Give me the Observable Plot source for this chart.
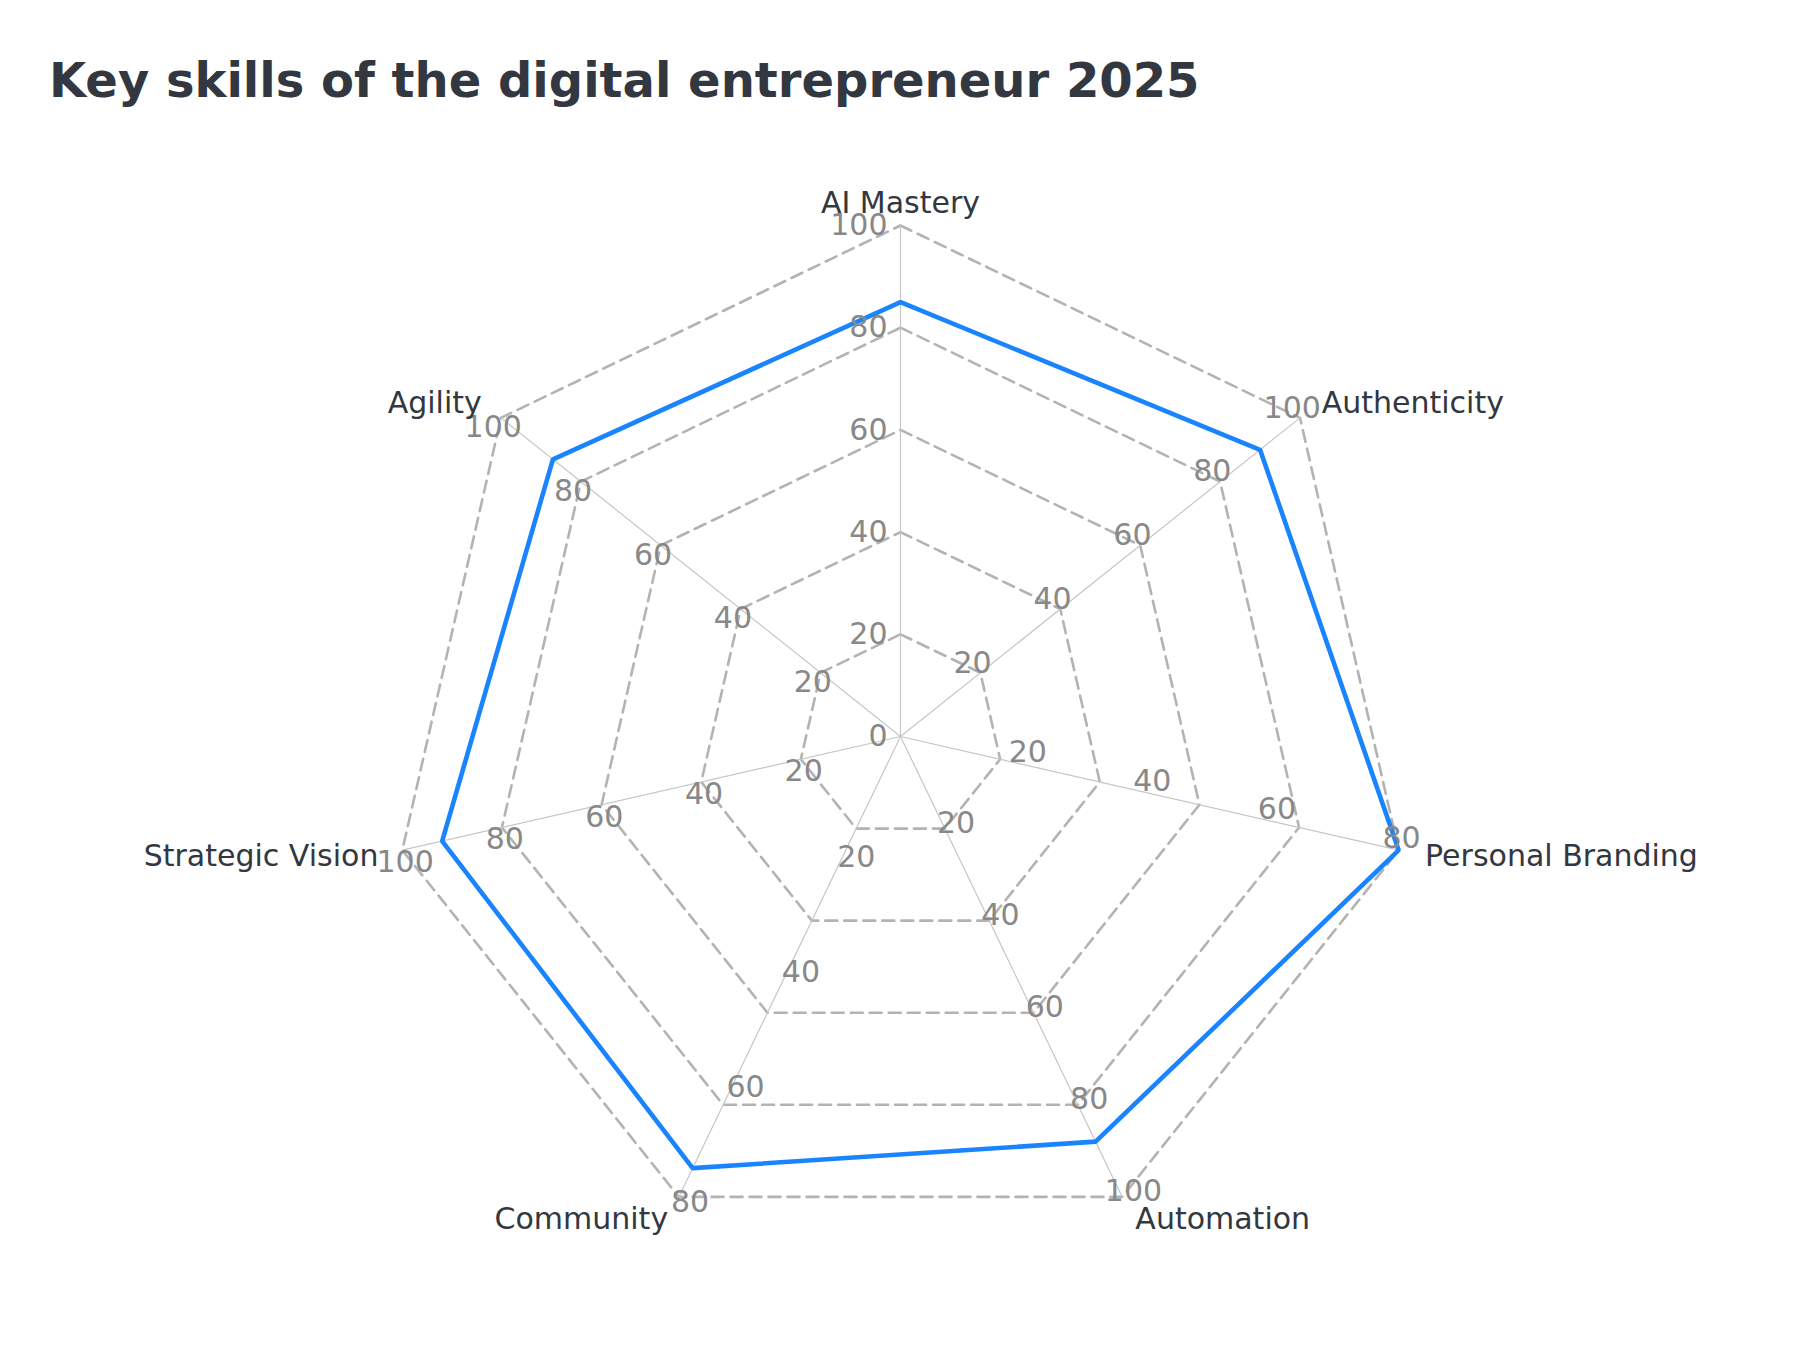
<!DOCTYPE html>
<html>
<head>
<meta charset="utf-8">
<script src="https://cdn.jsdelivr.net/npm/d3@7"></script>
<script src="https://cdn.jsdelivr.net/npm/@observablehq/plot@0.6"></script>
<style>
  body { margin: 0; background: #ffffff; font-family: "DejaVu Sans", sans-serif; }
  #wrap { position: relative; width: 1800px; height: 1350px; }
  #chart { position: absolute; left: 0; top: 0; }
  h1 {
    position: absolute; left: 49px; top: 56px; margin: 0;
    font-size: 48px; line-height: 48px; font-weight: bold; color: #333740;
    font-family: "DejaVu Sans", sans-serif;
  }
</style>
</head>
<body>
<div id="wrap">
  <div id="chart"></div>
  <h1>Key skills of the digital entrepreneur 2025</h1>
</div>
<script>
// Skill profile: one score per skill, each skill on its own axis scale
const skills = ["AI Mastery", "Authenticity", "Personal Branding", "Automation", "Community", "Strategic Vision", "Agility"];
const scores = [85, 90, 80, 88, 75, 92, 87];
const axisMax = [100, 100, 80, 100, 80, 100, 100];
const tickStep = 20;
// grid rings, in percent of the full radius
const gridLevels = [20, 40, 60, 80, 100];

// geometry: radius 100 units = 511 px, centre of the web at (900, 736)
const W = 1800, H = 1350, cx = 900, cy = 736, pxPerUnit = 5.11;
const n = skills.length;
const angle = i => Math.PI / 2 - i * 2 * Math.PI / n;
const polarX = (i, r) => r * Math.cos(angle(i));
const polarY = (i, r) => r * Math.sin(angle(i));
const labelGap = 12.5 / pxPerUnit;   // tick labels sit just beside their spoke
const nameRadius = 104.8;            // skill names just outside the outer ring

const rings = gridLevels.flatMap(level =>
  skills.map((s, i) => ({level, x: polarX(i, level), y: polarY(i, level)})));

const spokes = skills.map((s, i) => ({skill: s, x2: polarX(i, 100), y2: polarY(i, 100)}));

const profile = skills.map((s, i) => {
  const r = 100 * scores[i] / axisMax[i];
  return {skill: s, value: scores[i], x: polarX(i, r), y: polarY(i, r)};
});

const ticks = skills.flatMap((s, i) =>
  d3.range(i === 0 ? 0 : tickStep, axisMax[i] + 1, tickStep).map(t => {
    const r = 100 * t / axisMax[i];
    const a = angle(i);
    return {
      axis: i, label: String(t),
      x: polarX(i, r), y: polarY(i, r),
      ox: polarX(i, r) - Math.sin(a) * labelGap,
      oy: polarY(i, r) + Math.cos(a) * labelGap
    };
  }));

const names = skills.map((s, i) => {
  const c = Math.cos(angle(i));
  return {name: s, x: polarX(i, nameRadius), y: polarY(i, nameRadius),
          side: c > 0.1 ? "start" : c < -0.1 ? "end" : "middle"};
});

const ink = "#333740";
const tickInk = "#888888";
const nameShift = {start: [2.5, 0.5], middle: [0, 2.5], end: [0, 0.5]};

const chart = Plot.plot({
  width: W,
  height: H,
  margin: 0,
  x: {domain: [-cx / pxPerUnit, (W - cx) / pxPerUnit], axis: null},
  y: {domain: [-(H - cy) / pxPerUnit, cy / pxPerUnit], axis: null},
  style: {fontFamily: "DejaVu Sans, sans-serif", background: "#ffffff", overflow: "visible"},
  marks: [
    // dashed heptagon grid
    Plot.line(rings, {x: "x", y: "y", z: "level", curve: "linear-closed",
      stroke: "#b3b3b3", strokeWidth: 2.6, strokeDasharray: "12,7"}),
    // spokes
    Plot.link(spokes, {x1: 0, y1: 0, x2: "x2", y2: "y2", stroke: "#c6c6c6", strokeWidth: 1.2}),
    // skill profile
    Plot.line(profile, {x: "x", y: "y", curve: "linear-closed",
      stroke: "#1a84ff", strokeWidth: 4.6, strokeLinejoin: "miter"}),
    // tick labels: vertical spoke right-aligned, others beside the spoke
    Plot.text(ticks.filter(d => d.axis === 0), {x: "x", y: "y", text: "label",
      textAnchor: "end", dx: -13, fontSize: 30, fill: tickInk}),
    Plot.text(ticks.filter(d => d.axis !== 0), {x: "ox", y: "oy", text: "label",
      fontSize: 30, fill: tickInk}),
    // skill names
    ...["start", "middle", "end"].map(side =>
      Plot.text(names.filter(d => d.side === side), {x: "x", y: "y", text: "name",
        textAnchor: side, dx: nameShift[side][0], dy: nameShift[side][1],
        fontSize: 30, fill: ink}))
  ]
});

document.getElementById("chart").appendChild(chart);
</script>
</body>
</html>
